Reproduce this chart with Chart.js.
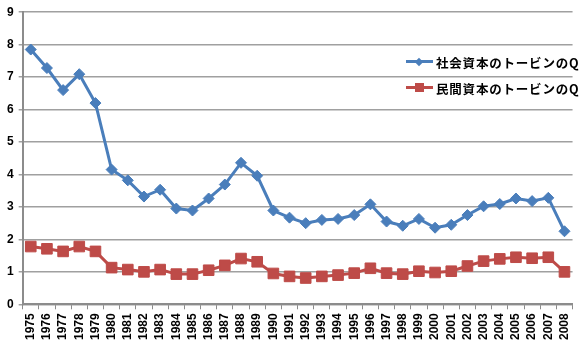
<!DOCTYPE html>
<html>
<head>
<meta charset="utf-8">
<script src="https://cdn.jsdelivr.net/npm/chart.js@4.4.1/dist/chart.umd.min.js"></script>
<style>
  html, body { margin: 0; padding: 0; background: #fff; }
  #wrap { position: relative; width: 583px; height: 347px; }
  #legend { position: absolute; left: 406px; top: 52px; font-family: "Noto Sans CJK JP", sans-serif; font-weight: bold; font-size: 12.5px; color: #000; }
  .row { display: flex; align-items: center; height: 20px; margin-bottom: 6px; }
  .sym { position: relative; width: 27px; height: 20px; margin-right: 3px; }
  .sym .ln { position: absolute; left: 0; right: 0; top: 8px; height: 3px; }
  .sym .mk { position: absolute; }
</style>
</head>
<body>
<div id="wrap">
  <canvas id="c" width="583" height="347"></canvas>
  <div id="legend"></div>
</div>
<script>
const years = ["1975","1976","1977","1978","1979","1980","1981","1982","1983","1984","1985","1986","1987","1988","1989","1990","1991","1992","1993","1994","1995","1996","1997","1998","1999","2000","2001","2002","2003","2004","2005","2006","2007","2008"];
const socialQ = [7.85,7.28,6.6,7.09,6.2,4.15,3.82,3.32,3.53,2.95,2.89,3.26,3.69,4.36,3.96,2.89,2.67,2.5,2.6,2.63,2.75,3.08,2.55,2.42,2.63,2.36,2.45,2.75,3.02,3.09,3.26,3.18,3.28,2.25];
const privateQ = [1.78,1.71,1.63,1.78,1.63,1.13,1.07,1.0,1.07,0.93,0.93,1.05,1.2,1.41,1.31,0.95,0.86,0.81,0.86,0.9,0.96,1.11,0.96,0.93,1.02,0.98,1.02,1.18,1.33,1.4,1.45,1.42,1.45,1.0];
const seriesNames = ["社会資本のトービンのQ","民間資本のトービンのQ"];
const yTicks = [0,1,2,3,4,5,6,7,8,9];

const blue = "#4A7EBB";
const red = "#BE4B48";

new Chart(document.getElementById("c"), {
  type: "line",
  data: {
    labels: years,
    datasets: [
      { label: seriesNames[0], data: socialQ, borderColor: blue, backgroundColor: blue, borderWidth: 3,
        pointStyle: "rectRot", pointRadius: 5.5, pointBorderWidth: 1, tension: 0 },
      { label: seriesNames[1], data: privateQ, borderColor: red, backgroundColor: red, borderWidth: 3,
        pointStyle: "rect", pointRadius: 7.5, pointBorderWidth: 1, tension: 0 }
    ]
  },
  options: {
    responsive: false,
    animation: false,
    layout: { padding: { top: 0, right: 5, left: 2, bottom: 3 } },
    plugins: { legend: { display: false }, tooltip: { enabled: false } },
    scales: {
      x: {
        offset: true,
        grid: { offset: true, drawOnChartArea: false, drawTicks: true, tickLength: 5, color: "#8c8c8c", lineWidth: 1 },
        border: { color: "#8c8c8c", width: 2 },
        ticks: { color: "#000", font: { family: "Liberation Sans", weight: "bold", size: 12 }, minRotation: 90, maxRotation: 90, autoSkip: false, padding: 4 }
      },
      y: {
        min: 0, max: 9,
        afterBuildTicks: (axis) => { axis.ticks = yTicks.map(v => ({ value: v })); },
        grid: { color: "#a0a0a0", lineWidth: 1.5, tickLength: 4, drawTicks: true },
        border: { color: "#8c8c8c", width: 2 },
        ticks: { color: "#000", font: { family: "Liberation Sans", weight: "bold", size: 12 }, padding: 5 }
      }
    }
  }
});

// HTML legend
const lg = document.getElementById("legend");
[[seriesNames[0], blue, "diamond"], [seriesNames[1], red, "square"]].forEach(([name, col, shape]) => {
  const row = document.createElement("div"); row.className = "row";
  const sym = document.createElement("div"); sym.className = "sym";
  const ln = document.createElement("div"); ln.className = "ln"; ln.style.background = col;
  const mk = document.createElement("div"); mk.className = "mk"; mk.style.background = col;
  if (shape === "diamond") {
    mk.style.width = "6px"; mk.style.height = "6px"; mk.style.left = "10px"; mk.style.top = "6.5px"; mk.style.transform = "rotate(45deg)";
  } else {
    mk.style.width = "9px"; mk.style.height = "9px"; mk.style.left = "9px"; mk.style.top = "5px";
  }
  sym.appendChild(ln); sym.appendChild(mk);
  const tx = document.createElement("span"); tx.textContent = name; tx.style.letterSpacing = "0.8px";
  row.appendChild(sym); row.appendChild(tx);
  lg.appendChild(row);
});
</script>
</body>
</html>
